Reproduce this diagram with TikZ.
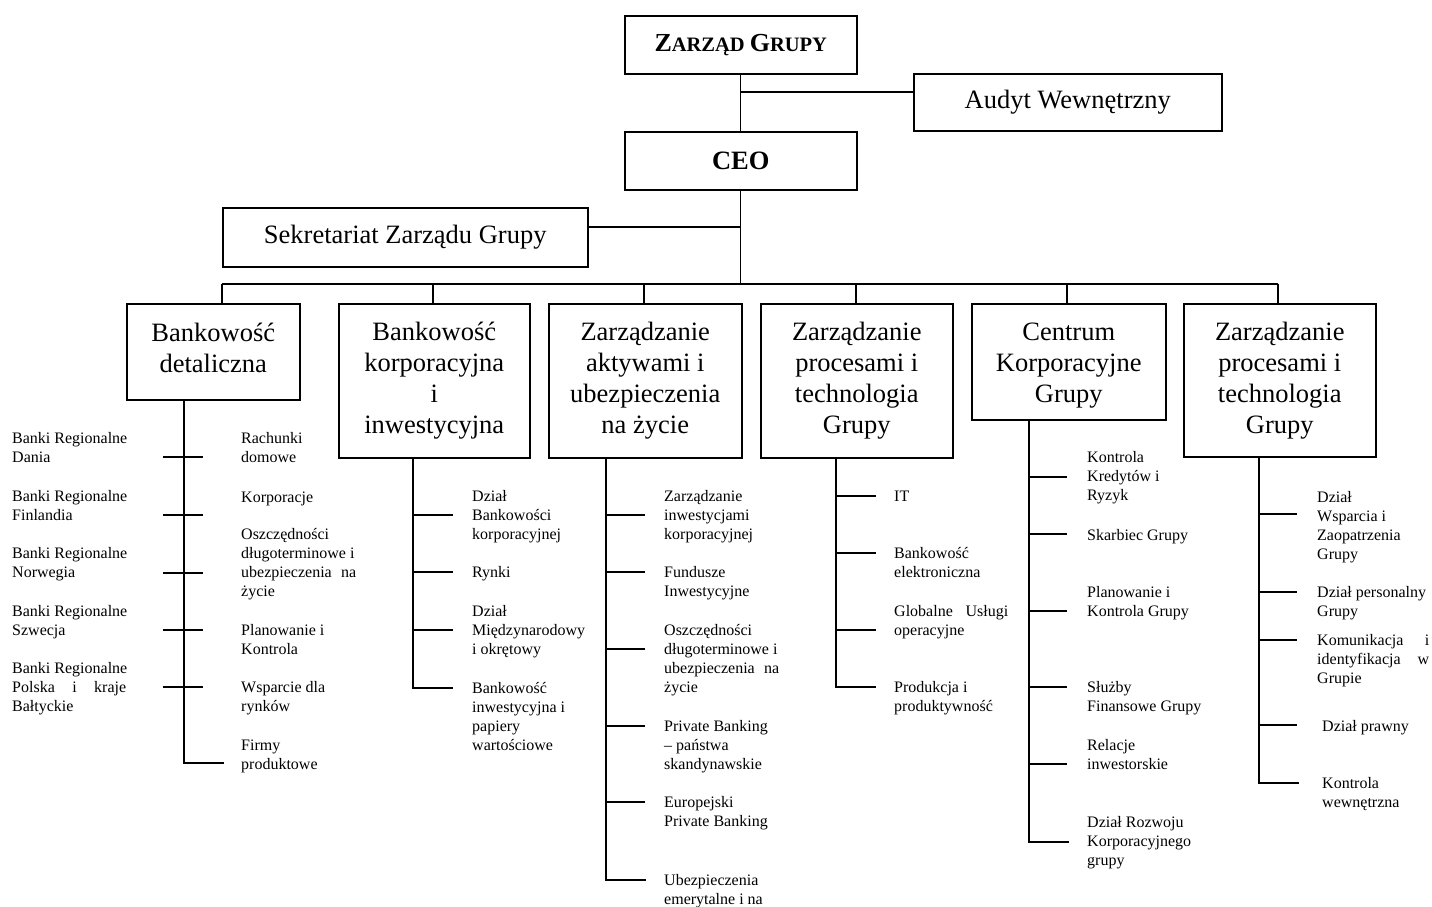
\documentclass[tikz,border=0pt]{standalone}
\usepackage{fontspec}
\setmainfont{Liberation Serif}
\usetikzlibrary{calc}
\newcommand{\tb}[1]{\begin{tabular}[t]{@{}l@{}}#1\end{tabular}}
\newcommand{\jl}[2]{\makebox[#1pt][s]{#2}}
\begin{document}
\begin{tikzpicture}[x=1pt,y=-1pt,
  box/.style={draw, line width=1.5pt, inner sep=0pt, anchor=north west, align=center,
    font=\fontsize{26.5}{31}\selectfont},
  lbl/.style={anchor=base west, inner sep=0pt, font=\fontsize{16}{19}\selectfont},
  conn/.style={line width=1.2pt},
  br/.style={line width=1.8pt}]
\useasboundingbox (0,0) rectangle (1432,906);
% top boxes
\node[box, minimum width=232, minimum height=58] (zg) at (624,15)
  {\bfseries{\fontsize{26}{31}\selectfont Z}{\fontsize{20.5}{31}\selectfont ARZĄD }{\fontsize{26}{31}\selectfont G}{\fontsize{20.5}{31}\selectfont RUPY}};
\node[box, minimum width=308, minimum height=57] (audit) at (913,73) {Audyt Wewnętrzny};
\node[box, minimum width=232, minimum height=58] (ceo) at (624,131) {\bfseries CEO};
\node[box, minimum width=365, minimum height=59] (sek) at (222,207) {Sekretariat Zarządu Grupy};
% division boxes
\node[box, minimum width=173, minimum height=96, text depth=7pt] (b1) at (126,303) {Bankowość\\detaliczna};
\node[box, minimum width=191, minimum height=154] (b2) at (338,303) {Bankowość\\korporacyjna\\i\\inwestycyjna};
\node[box, minimum width=193, minimum height=154] (b3) at (548,303) {Zarządzanie\\aktywami i\\ubezpieczenia\\na życie};
\node[box, minimum width=192, minimum height=154] (b4) at (760,303) {Zarządzanie\\procesami i\\technologia\\Grupy};
\node[box, minimum width=194, minimum height=116, text height=87pt] (b5) at (971,303) {Centrum\\Korporacyjne\\Grupy};
\node[box, minimum width=192, minimum height=153] (b6) at (1183,303) {Zarządzanie\\procesami i\\technologia\\Grupy};
% top connectors
\coordinate (ja) at (740,92);
\coordinate (js) at (740,227);
\coordinate (busL) at (222,284);
\coordinate (busR) at (1278,284);
\draw[conn] (zg.south) -- (ceo.north);
\draw[conn] (ja) -- (audit.west |- ja);
\draw[conn] (ceo.south) -- (ceo.south |- busL);
\draw[br] (js) -- (sek.east |- js);
\draw[conn] (busL) -- (busR);
\coordinate (d1) at (222,284);
\coordinate (d2) at (433,284);
\coordinate (d3) at (644,284);
\coordinate (d4) at (856,284);
\coordinate (d5) at (1067,284);
\coordinate (d6) at (1278,284);
\foreach \i in {1,...,6} \draw[conn] (d\i) -- (b\i.north -| d\i);
% stems
\coordinate (s1) at (184,763);
\coordinate (s2) at (413,688);
\coordinate (s3) at (606,880);
\coordinate (s4) at (836,687);
\coordinate (s5) at (1029,842);
\coordinate (s6) at (1259,783);
\foreach \i in {1,...,6} \draw[br] (b\i.south -| s\i) -- (s\i) -- ++(40,0);
\foreach \y in {457,515,573,630,687} \draw[br] (163,\y) -- (203,\y);
\foreach \y in {515,572,630} \draw[br] (413,\y) -- (453,\y);
\foreach \y in {515,572,649,726,802} \draw[br] (606,\y) -- (645,\y);
\foreach \y in {496,553,630} \draw[br] (836,\y) -- (876,\y);
\foreach \y in {477,534,611,687,764} \draw[br] (1029,\y) -- (1067,\y);
\foreach \y in {514,592,640,725} \draw[br] (1259,\y) -- (1297,\y);
% column 1 labels
\node[lbl] (l11) at (12,443) {\tb{Banki Regionalne\\Dania}};
\node[lbl] (l12) at (12,501) {\tb{Banki Regionalne\\Finlandia}};
\node[lbl] (l13) at (12,558) {\tb{Banki Regionalne\\Norwegia}};
\node[lbl] (l14) at (12,616) {\tb{Banki Regionalne\\Szwecja}};
\node[lbl] (l15) at (12,673) {\tb{Banki Regionalne\\\jl{114}{Polska i kraje}\\Bałtyckie}};
\node[lbl] (r11) at (241,443) {\tb{Rachunki\\domowe}};
\node[lbl] (r12) at (241,502) {\tb{Korporacje}};
\node[lbl] (r13) at (241,539) {\tb{Oszczędności\\długoterminowe i\\\jl{115}{ubezpieczenia na}\\życie}};
\node[lbl] (r14) at (241,635) {\tb{Planowanie i\\Kontrola}};
\node[lbl] (r15) at (241,692) {\tb{Wsparcie dla\\rynków}};
\node[lbl] (r16) at (241,750) {\tb{Firmy\\produktowe}};
% column 2
\node[lbl] (r21) at (472,501) {\tb{Dział\\Bankowości\\korporacyjnej}};
\node[lbl] (r22) at (472,577) {\tb{Rynki}};
\node[lbl] (r23) at (472,616) {\tb{Dział\\Międzynarodowy\\i okrętowy}};
\node[lbl] (r24) at (472,693) {\tb{Bankowość\\inwestycyjna i\\papiery\\wartościowe}};
% column 3
\node[lbl] (r31) at (664,501) {\tb{Zarządzanie\\inwestycjami\\korporacyjnej}};
\node[lbl] (r32) at (664,577) {\tb{Fundusze\\Inwestycyjne}};
\node[lbl] (r33) at (664,635) {\tb{Oszczędności\\długoterminowe i\\\jl{115}{ubezpieczenia na}\\życie}};
\node[lbl] (r34) at (664,731) {\tb{Private Banking\\– państwa\\skandynawskie}};
\node[lbl] (r35) at (664,807) {\tb{Europejski\\Private Banking}};
\node[lbl] (r36) at (664,885) {\tb{Ubezpieczenia\\emerytalne i na}};
% column 4
\node[lbl] (r41) at (894,501) {\tb{IT}};
\node[lbl] (r42) at (894,558) {\tb{Bankowość\\elektroniczna}};
\node[lbl] (r43) at (894,616) {\tb{\jl{114}{Globalne Usługi}\\operacyjne}};
\node[lbl] (r44) at (894,692) {\tb{Produkcja i\\produktywność}};
% column 5
\node[lbl] (r51) at (1087,462) {\tb{Kontrola\\Kredytów i\\Ryzyk}};
\node[lbl] (r52) at (1087,540) {\tb{Skarbiec Grupy}};
\node[lbl] (r53) at (1087,597) {\tb{Planowanie i\\Kontrola Grupy}};
\node[lbl] (r54) at (1087,692) {\tb{Służby\\Finansowe Grupy}};
\node[lbl] (r55) at (1087,750) {\tb{Relacje\\inwestorskie}};
\node[lbl] (r56) at (1087,827) {\tb{Dział Rozwoju\\Korporacyjnego\\grupy}};
% column 6
\node[lbl] (r61) at (1317,502) {\tb{Dział\\Wsparcia i\\Zaopatrzenia\\Grupy}};
\node[lbl] (r62) at (1317,597) {\tb{Dział personalny\\Grupy}};
\node[lbl] (r63) at (1317,645) {\tb{\jl{112}{Komunikacja i}\\\jl{112}{identyfikacja w}\\Grupie}};
\node[lbl] (r64) at (1322,731) {\tb{Dział prawny}};
\node[lbl] (r65) at (1322,788) {\tb{Kontrola\\wewnętrzna}};
\end{tikzpicture}
\end{document}
